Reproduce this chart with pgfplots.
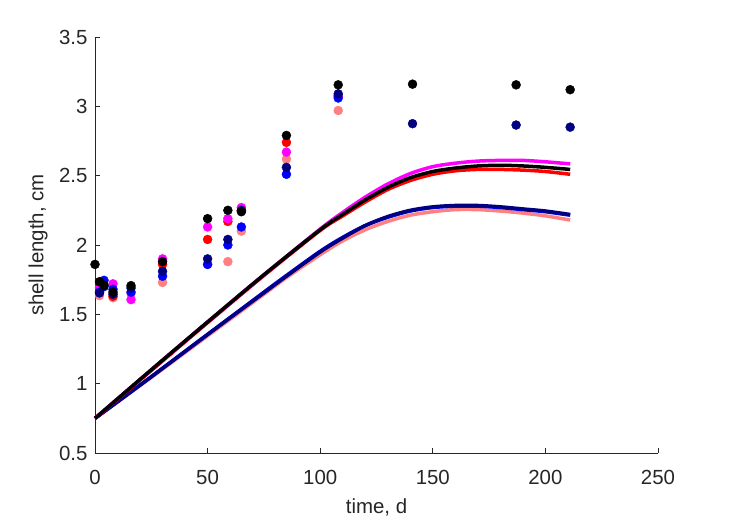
\documentclass[border=0pt]{standalone}
\usepackage{pgfplots}
\pgfplotsset{compat=1.18}
\usepackage{fontspec}
\setmainfont{Liberation Sans}
\definecolor{mgray}{RGB}{38,38,38}
\definecolor{salmon}{RGB}{255,128,128}
\definecolor{navy}{RGB}{0,0,128}
\definecolor{mag}{RGB}{255,0,255}
\definecolor{rd}{RGB}{255,0,0}
\definecolor{bl}{RGB}{0,0,255}
\begin{document}
\begin{tikzpicture}
\path[use as bounding box] (-95bp,-68bp) rectangle (634bp,453bp);
\begin{axis}[
  scale only axis, width=563bp, height=416bp,
  anchor=south west, at={(0,0)},
  xmin=0, xmax=250, ymin=0.5, ymax=3.5,
  xtick={0,50,100,150,200,250},
  ytick={0.5,1,1.5,2,2.5,3,3.5},
  yticklabels={0.5,1,1.5,2,2.5,3,3.5},
  axis x line=bottom, axis y line=left,
  axis line style={-, draw=mgray, line width=0.7bp},
  tick align=inside, major tick length=5bp,
  tick style={draw=mgray, line width=0.7bp},
  /pgf/number format/assume math mode=true,
  ticklabel style={font=\fontsize{20.5}{24}\selectfont, text=mgray},
  xticklabel style={yshift=-14bp},
  yticklabel style={xshift=-4bp},
  xlabel={time, d}, ylabel={shell length, cm},
  every axis x label/.style={at={(axis description cs:0.5,-0.13)}, anchor=center, font=\fontsize{20.5}{24}\selectfont, text=mgray},
  every axis y label/.style={at={(axis description cs:-0.101,0.5)}, anchor=center, rotate=90, font=\fontsize{20.5}{24}\selectfont, text=mgray},
  clip=false,
]
% ---- model curves ----
\addplot[salmon, line width=3.5bp, smooth] coordinates {
(0,0.75)(25,1.045)(50,1.345)(75,1.645)(85,1.765)(100,1.93)(110,2.03)(120,2.11)(130,2.17)(140,2.215)(150,2.24)(160,2.255)(170,2.255)(180,2.245)(190,2.23)(200,2.21)(211,2.18)};
\addplot[bl, line width=3.5bp, smooth] coordinates {
(0,0.75)(25,1.05)(50,1.355)(75,1.66)(85,1.78)(100,1.955)(110,2.055)(120,2.14)(130,2.2)(140,2.245)(150,2.27)(160,2.28)(170,2.28)(180,2.27)(190,2.255)(200,2.24)(211,2.215)};
\addplot[navy, line width=3.5bp, smooth] coordinates {
(0,0.75)(25,1.05)(50,1.355)(75,1.655)(85,1.775)(100,1.95)(110,2.05)(120,2.14)(130,2.205)(140,2.25)(150,2.275)(160,2.285)(170,2.285)(180,2.275)(190,2.26)(200,2.245)(211,2.22)};
\addplot[rd, line width=3.5bp, smooth] coordinates {
(0,0.75)(25,1.095)(50,1.44)(75,1.78)(100,2.105)(110,2.21)(120,2.31)(130,2.4)(140,2.465)(150,2.51)(160,2.535)(170,2.545)(180,2.545)(190,2.54)(200,2.53)(211,2.51)};
\addplot[mag, line width=3.5bp, smooth] coordinates {
(0,0.75)(25,1.1)(50,1.445)(75,1.785)(100,2.115)(110,2.235)(120,2.345)(130,2.44)(140,2.515)(150,2.565)(160,2.59)(170,2.605)(180,2.61)(190,2.61)(200,2.6)(211,2.585)};
\addplot[black, line width=3.5bp, smooth] coordinates {
(0,0.75)(25,1.1)(50,1.445)(75,1.785)(100,2.11)(110,2.22)(120,2.325)(130,2.415)(140,2.485)(150,2.53)(160,2.555)(170,2.57)(180,2.575)(190,2.57)(200,2.56)(211,2.545)};
% ---- observations ----
\addplot[only marks, mark=*, mark size=4.5bp, mark options={draw=salmon, fill=salmon}] coordinates {
(2,1.635)(8,1.62)(16,1.65)(30,1.73)(50,1.86)(59,1.88)(65,2.1)(85,2.62)(108,2.97)};
\addplot[only marks, mark=*, mark size=4.5bp, mark options={draw=rd, fill=rd}] coordinates {
(2,1.66)(8,1.63)(30,1.86)(50,2.04)(59,2.17)(65,2.25)(85,2.74)(108,3.075)};
\addplot[only marks, mark=*, mark size=4.5bp, mark options={draw=mag, fill=mag}] coordinates {
(2,1.695)(8,1.72)(16,1.606)(30,1.9)(50,2.13)(59,2.19)(65,2.27)(85,2.67)(108,3.075)};
\addplot[only marks, mark=*, mark size=4.5bp, mark options={draw=bl, fill=bl}] coordinates {
(2,1.66)(4,1.745)(8,1.68)(16,1.66)(30,1.775)(50,1.86)(59,2.0)(65,2.13)(85,2.51)(108,3.06)};
\addplot[only marks, mark=*, mark size=4.5bp, mark options={draw=navy, fill=navy}] coordinates {
(2,1.654)(4,1.7)(8,1.645)(16,1.69)(30,1.81)(50,1.9)(59,2.04)(65,2.25)(85,2.56)(108,3.09)(141,2.875)(187,2.865)(211,2.85)};
\addplot[only marks, mark=*, mark size=4.5bp, mark options={draw=black, fill=black}] coordinates {
(0,1.86)(2,1.735)(4,1.71)(8,1.66)(16,1.707)(30,1.88)(50,2.19)(59,2.25)(65,2.24)(85,2.79)(108,3.155)(141,3.16)(187,3.155)(211,3.12)};
\end{axis}
\end{tikzpicture}
\end{document}
